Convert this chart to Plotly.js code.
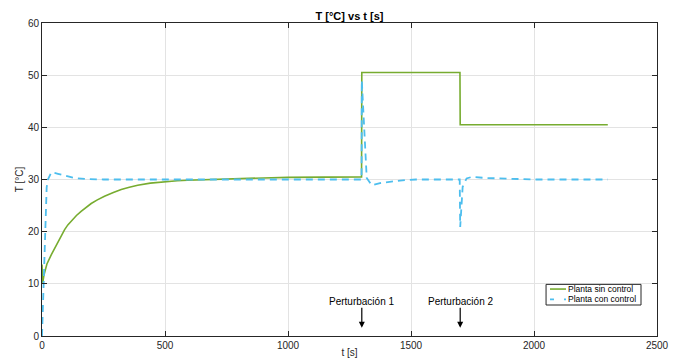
<!DOCTYPE html>
<html>
<head>
<meta charset="utf-8">
<script src="https://cdn.plot.ly/plotly-3.0.1.min.js"></script>
<style>html,body{margin:0;padding:0;background:#fff;}</style>
</head>
<body>
<div id="chart" style="width:678px;height:358px;"></div>
<script>
// Planta sin control (green)
const tSin = [0, 3, 8, 20, 38, 50, 65, 80, 92, 105, 119, 140, 159, 180, 200, 225, 254, 290, 322, 355, 389, 440, 497, 550, 592, 650, 700, 795, 900, 1000, 1299, 1300, 1699, 1700, 2300];
const ySin = [13.7, 10.2, 11.7, 13.8, 15.6, 16.7, 18.1, 19.3, 20.4, 21.3, 22.1, 23.1, 23.9, 24.7, 25.4, 26.1, 26.8, 27.5, 28.1, 28.5, 28.9, 29.3, 29.6, 29.75, 29.85, 29.95, 30.0, 30.2, 30.3, 30.4, 30.5, 50.5, 50.5, 40.5, 40.5];

// Planta con control (blue dashed)
const tCon = [0, 3, 8, 14, 19, 24, 38, 65, 100, 130, 175, 250, 400, 800, 1200, 1299, 1300, 1310, 1320, 1340, 1374, 1420, 1455, 1520, 1600, 1698, 1700, 1710, 1726, 1747, 1800, 1900, 2000, 2300];
const yCon = [0, 5, 14, 23, 28.5, 30, 31.4, 31.1, 30.6, 30.3, 30.1, 30.0, 30.0, 30.0, 30.0, 30.0, 49, 38, 30.3, 28.9, 29.3, 29.6, 29.8, 30.0, 30.0, 30.0, 20.9, 28.6, 30.2, 30.5, 30.3, 30.1, 30.0, 30.0];

const names = ["Planta sin control", "Planta con control"];
const xTicks = [0, 500, 1000, 1500, 2000, 2500];
const yTicks = [0, 10, 20, 30, 40, 50, 60];
const perturbT = [1300, 1700];
const perturbLabels = ["Perturbación 1", "Perturbación 2"];

const green = "#77AC30";
const blue = "#4DBEEE";
const axisCol = "#262626";
const font = "Liberation Sans, Arial, Helvetica, sans-serif";

const traces = [
  {x: tSin, y: ySin, type: "scatter", mode: "lines", name: names[0], showlegend: false,
   line: {color: green, width: 1.6}},
  {x: tCon, y: yCon, type: "scatter", mode: "lines", name: names[1], showlegend: false,
   line: {color: blue, width: 1.8, dash: "7px,5px"}}
];

const annotations = perturbT.map((t, i) => ({
  x: t, y: 1.6, xref: "x", yref: "y", text: perturbLabels[i],
  showarrow: true, ax: 0, ay: -26, arrowhead: 2, arrowsize: 1, arrowwidth: 1.2,
  arrowcolor: "#000", font: {family: font, size: 10, color: "#000"}, borderpad: 0
}));

// legend (custom box)
const lx0 = 2049, lx1 = 2435, ly0 = 5.94, ly1 = 9.9;
annotations.push({x: 2136, y: 9.0, xref: "x", yref: "y", text: names[0], showarrow: false,
  xanchor: "left", yanchor: "middle", font: {family: font, size: 8.5, color: "#000"}, borderpad: 0});
annotations.push({x: 2136, y: 7.03, xref: "x", yref: "y", text: names[1], showarrow: false,
  xanchor: "left", yanchor: "middle", font: {family: font, size: 8.5, color: "#000"}, borderpad: 0});

const shapes = [
  {type: "rect", xref: "x", yref: "y", x0: lx0, x1: lx1, y0: ly0, y1: ly1,
   line: {color: axisCol, width: 1}, fillcolor: "#fff", layer: "above"},
  {type: "line", xref: "x", yref: "y", x0: 2065, x1: 2130, y0: 9.0, y1: 9.0,
   line: {color: green, width: 1.6}, layer: "above"},
  {type: "line", xref: "x", yref: "y", x0: 2065, x1: 2130, y0: 7.03, y1: 7.03,
   line: {color: blue, width: 1.8, dash: "4px,10px"}, layer: "above"}
];

const layout = {
  width: 678, height: 358,
  margin: {l: 42, r: 21, t: 23, b: 22, pad: 0},
  paper_bgcolor: "#fff", plot_bgcolor: "#fff",
  font: {family: font, size: 10, color: axisCol},
  title: {text: "<b>T [°C] vs t [s]</b>", x: 0.5, xref: "paper", y: 1 - 16/358, yref: "container",
          yanchor: "middle", font: {family: font, size: 11, color: "#000"}},
  xaxis: {range: [0, 2500], tickvals: xTicks, ticktext: xTicks.map(String),
          showgrid: true, gridcolor: "#e3e3e3", gridwidth: 1, zeroline: false,
          showline: true, linecolor: axisCol, linewidth: 1, mirror: "ticks",
          ticks: "inside", ticklen: 5, tickcolor: axisCol, tickwidth: 1,
          tickfont: {family: font, size: 10, color: axisCol},
          title: {text: "t [s]", standoff: 0, font: {family: font, size: 10, color: axisCol}},
          automargin: false},
  yaxis: {range: [0, 60], tickvals: yTicks, ticktext: yTicks.map(String),
          showgrid: true, gridcolor: "#e3e3e3", gridwidth: 1, zeroline: false,
          showline: true, linecolor: axisCol, linewidth: 1, mirror: "ticks",
          ticks: "inside", ticklen: 5, tickcolor: axisCol, tickwidth: 1,
          tickfont: {family: font, size: 10, color: axisCol},
          title: {text: "T [°C]", standoff: 2, font: {family: font, size: 10, color: axisCol}},
          automargin: false},
  annotations: annotations,
  shapes: shapes,
  showlegend: false
};

Plotly.newPlot("chart", traces, layout, {staticPlot: true, displayModeBar: false});
</script>
</body>
</html>
